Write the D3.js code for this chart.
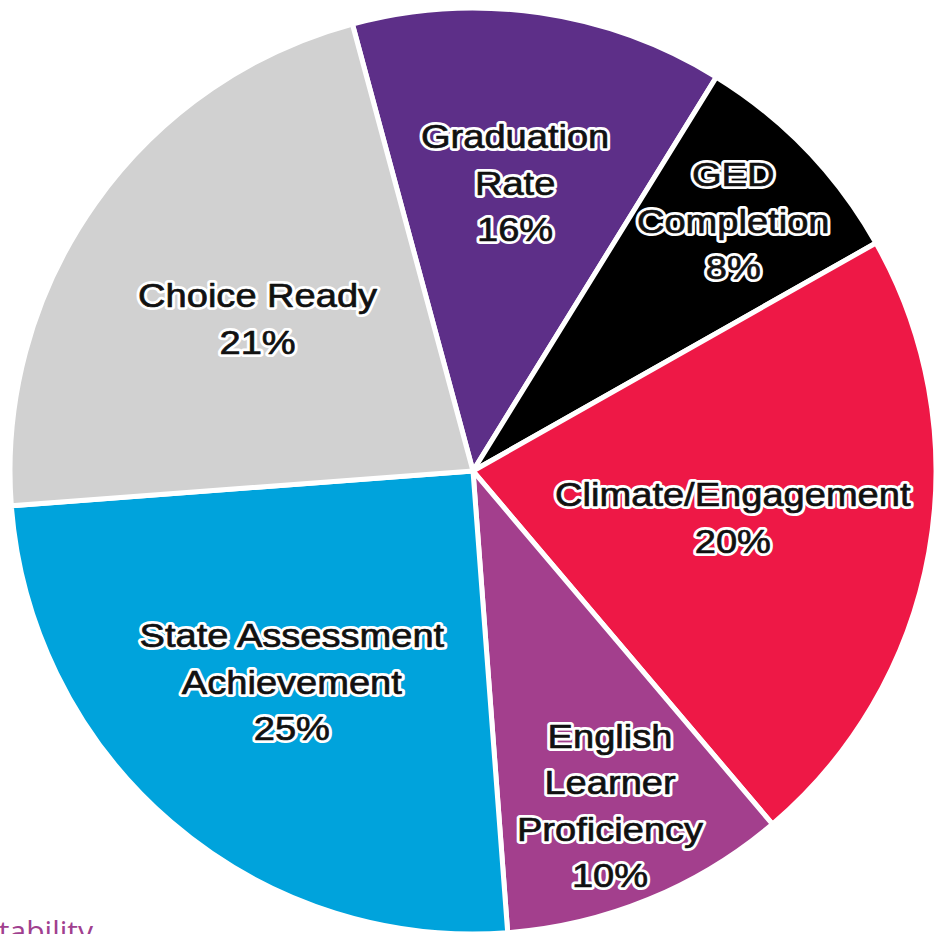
<!DOCTYPE html>
<html>
<head>
<meta charset="utf-8">
<script src="https://cdn.jsdelivr.net/npm/d3@7"></script>
<style>
  html, body { margin: 0; padding: 0; background: white; overflow: hidden; }
</style>
</head>
<body>
<div id="chart"></div>
<script>
var w = 936;
var h = 934;

// slices, clockwise from the top
var categories = ['Graduation Rate', 'GED Completion', 'Climate/Engagement',
  'English Learner Proficiency', 'State Assessment Achievement', 'Choice Ready'];
var labelLines = [['Graduation', 'Rate'], ['GED', 'Completion'], ['Climate/Engagement'],
  ['English', 'Learner', 'Proficiency'], ['State Assessment', 'Achievement'], ['Choice Ready']];
var labelPercents = [16, 8, 20, 10, 25, 21];   // the printed weights
var sliceShares = [13, 8, 22, 10, 25, 22];     // slice sizes as drawn in the picture
var colors = ['#5d2f88', '#000000', '#ee1846', '#a33f8d', '#00a3dc', '#d1d1d1'];

var cx = 473, cy = 471, radius = 463;
var startDeg = -15.1;
var fontSize = 34;
var lineGap = 46.5;

var svg = d3.select('#chart').append('svg')
  .attr('width', w)
  .attr('height', h)
  .attr('style', 'background-color: white');

var slices = categories.map(function(c, i) {
  return { name: c, lines: labelLines[i], pct: labelPercents[i], share: sliceShares[i], color: colors[i] };
});

var pie = d3.pie()
  .sort(null)
  .value(function(d) { return d.share; })
  .startAngle(startDeg * Math.PI / 180)
  .endAngle((startDeg + 360) * Math.PI / 180);

var arcs = pie(slices);

var arc = d3.arc().innerRadius(0).outerRadius(radius);

// label distance depends on slice size (small slices push text outward)
var labelFrac = d3.scaleThreshold().domain([11, 15, 24]).range([0.78, 0.63, 0.57, 0.6]);

var g = svg.append('g').attr('transform', 'translate(' + cx + ',' + cy + ')');

g.selectAll('path.slice')
  .data(arcs)
  .enter().append('path')
  .attr('class', 'slice')
  .attr('d', arc)
  .attr('fill', function(d) { return d.data.color; })
  .attr('stroke', 'white')
  .attr('stroke-width', 5)
  .attr('stroke-linejoin', 'miter');

var labels = g.selectAll('g.lbl')
  .data(arcs)
  .enter().append('g')
  .attr('class', 'lbl')
  .attr('transform', function(d) {
    var r = radius * labelFrac(d.data.share);
    var a = (d.startAngle + d.endAngle) / 2;
    return 'translate(' + (Math.sin(a) * r) + ',' + (-Math.cos(a) * r) + ') scale(1.12,1)';
  });

labels.each(function(d) {
  var lines = d.data.lines.concat([d.data.pct + '%']);
  var top = -(lines.length - 1) * lineGap / 2;
  var el = d3.select(this);
  // white halo underneath, then the dark glyphs on top
  ['halo', 'ink'].forEach(function(layer) {
    el.selectAll('text.' + layer)
      .data(lines)
      .enter().append('text')
      .attr('class', layer)
      .attr('x', 0)
      .attr('y', function(t, i) { return top + i * lineGap; })
      .attr('dy', '0.36em')
      .attr('text-anchor', 'middle')
      .attr('font-family', "'Liberation Sans', Arial, sans-serif")
      .attr('font-size', fontSize)
      .attr('fill', '#111')
      .attr('stroke', layer == 'halo' ? 'white' : '#111')
      .attr('stroke-width', layer == 'halo' ? 6 : 0.7)
      .attr('stroke-linejoin', 'round')
      .text(function(t) { return t; });
  });
});

// page heading peeking in at the bottom-left corner
svg.append('text')
  .attr('x', 93)
  .attr('y', 942)
  .attr('text-anchor', 'end')
  .attr('font-family', "'Open Sans', sans-serif")
  .attr('font-size', 30)
  .attr('fill', '#a0408f')
  .text('Accountability');
</script>
</body>
</html>
